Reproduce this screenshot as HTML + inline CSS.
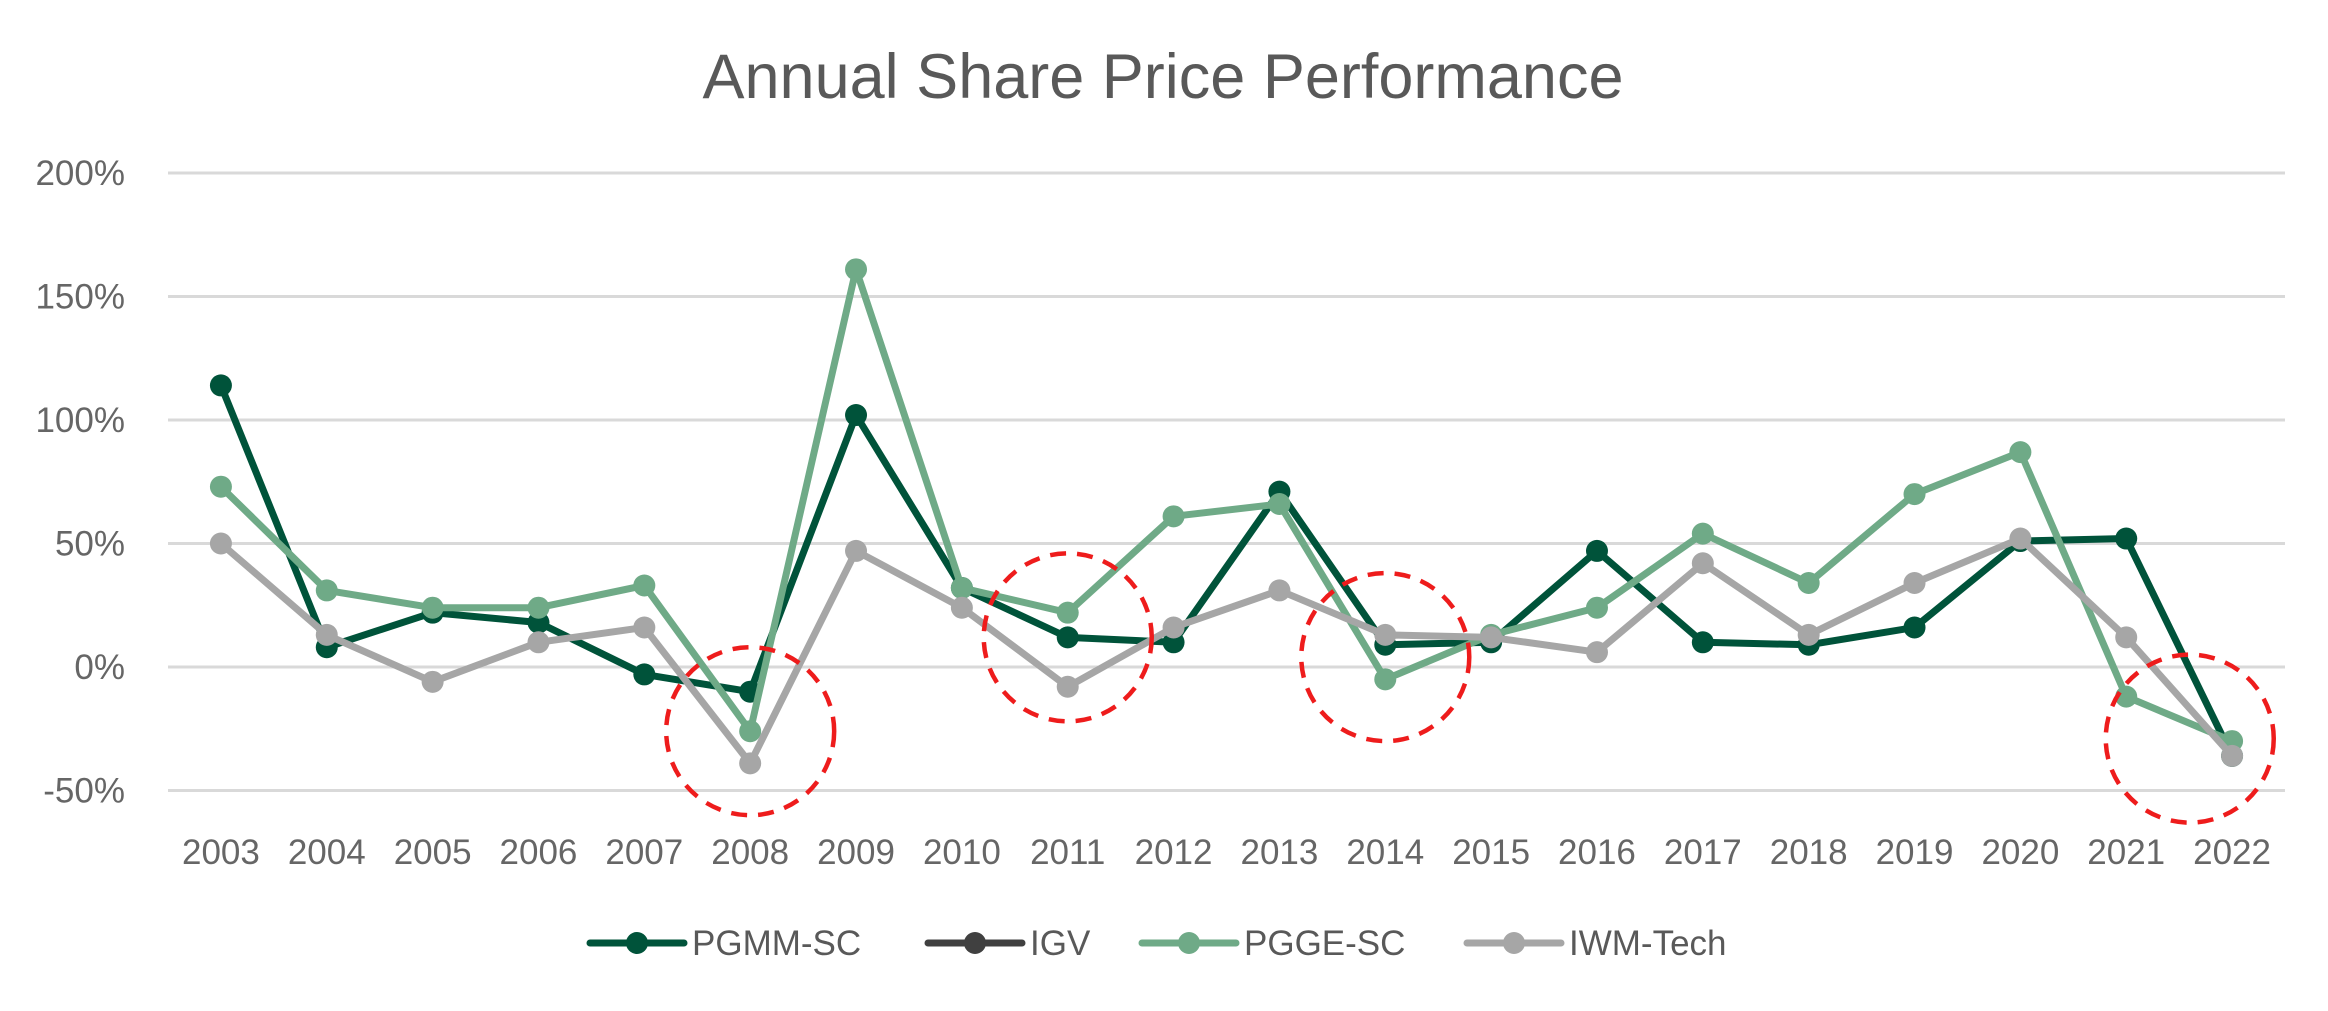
<!DOCTYPE html>
<html><head><meta charset="utf-8"><style>
html,body{margin:0;padding:0;background:#fff;}
svg{display:block;font-family:"Liberation Sans",sans-serif;}
</style></head><body>
<svg id="chart" width="2328" height="1011" viewBox="0 0 2328 1011">
<text x="1163" y="98" text-anchor="middle" font-size="63" fill="#595959">Annual Share Price Performance</text>
<g id="grid"></g><g id="axes"></g><g id="series"></g><g id="circles"></g><g id="legend"></g>
</svg>
<script>
const years = ["2003","2004","2005","2006","2007","2008","2009","2010","2011","2012","2013","2014","2015","2016","2017","2018","2019","2020","2021","2022"];
const pgmm = [114,8,22,18,-3,-10,102,32,12,10,71,9,10,47,10,9,16,51,52,-36];
const igv = [];
const pgge = [73,31,24,24,33,-26,161,32,22,61,66,-5,13,24,54,34,70,87,-12,-30];
const iwm = [50,13,-6,10,16,-39,47,24,-8,16,31,13,12,6,42,13,34,52,12,-36];
const yTicks = [-50,0,50,100,150,200];
const yTickLabels = ["-50%","0%","50%","100%","150%","200%"];
const highlightX = [5,8,11,18.6];
const highlightY = [-26,12,4,-29];
const seriesNames = ["PGMM-SC","IGV","PGGE-SC","IWM-Tech"];

const NS="http://www.w3.org/2000/svg";
const x0=168,x1=2285,y0=667,pxPer=123.5/50;
const step=(x1-x0)/years.length;
const X=i=>x0+step*(i+0.5);
const Y=v=>y0-v*pxPer;
function mk(tag,attrs,parent){const e=document.createElementNS(NS,tag);for(const k in attrs)e.setAttribute(k,attrs[k]);parent.appendChild(e);return e;}
const grid=document.getElementById('grid'),axes=document.getElementById('axes');
yTicks.forEach((t,i)=>{
  const l=mk('line',{x1:x0,x2:x1,y1:Y(t),y2:Y(t),stroke:'#d9d9d9','stroke-width':3},grid);
  
  
  const tx=mk('text',{x:125,y:Y(t)+12,'text-anchor':'end','font-size':35,fill:'#666'},axes);
  tx.textContent=yTickLabels[i];
  
  
});
years.forEach((yr,i)=>{
  const tx=mk('text',{x:X(i),y:864,'text-anchor':'middle','font-size':35,fill:'#666'},axes);
  tx.textContent=yr;
  
  
});
const ser=document.getElementById('series');
const defs=[[pgmm,'#00533a','pgmm-sc'],[igv,'#404040','igv'],[pgge,'#6faa87','pgge-sc'],[iwm,'#a6a6a6','iwm-tech']];
defs.forEach(([d,c,n])=>{
  if(!d.length)return;
  const g=mk('g',{},ser);
  
  
  const p=mk('polyline',{points:d.map((v,i)=>X(i)+','+Y(v)).join(' '),fill:'none',stroke:c,'stroke-width':7,'stroke-linejoin':'round'},g);
  
  
  d.forEach((v,i)=>{
    const m=mk('circle',{cx:X(i),cy:Y(v),r:11,fill:c},g);
    
    
  });
});
const circ=document.getElementById('circles');
highlightX.forEach((hx,i)=>{
  const c=mk('circle',{cx:X(hx),cy:Y(highlightY[i]),r:84,fill:'none',stroke:'#ee1c1c','stroke-width':4.5,'stroke-dasharray':'16 11'},circ);
  
  
});
const leg=document.getElementById('legend');
const legX=[590,928,1142,1467];
const legC=['#00533a','#404040','#6faa87','#a6a6a6'];
seriesNames.forEach((n,i)=>{
  const g=mk('g',{},leg);
  
  
  mk('line',{x1:legX[i],x2:legX[i]+94,y1:943,y2:943,stroke:legC[i],'stroke-width':7,'stroke-linecap':'round'},g);
  mk('circle',{cx:legX[i]+47,cy:943,r:11,fill:legC[i]},g);
  const t=mk('text',{x:legX[i]+102,y:955,'font-size':35,fill:'#595959'},g);
  t.textContent=n;
});
</script>
</body></html>
